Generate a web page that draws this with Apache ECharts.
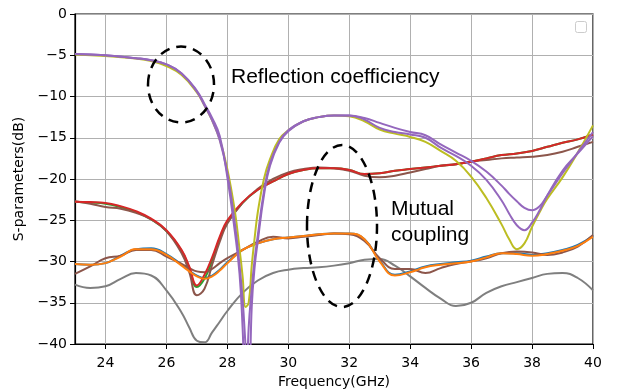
<!DOCTYPE html>
<html>
<head>
<meta charset="utf-8">
<script src="https://cdn.jsdelivr.net/npm/echarts@6/dist/echarts.min.js"></script>
<style>
  html, body { margin: 0; padding: 0; background: #fff; }
  #chart { width: 628px; height: 390px; }
</style>
</head>
<body>
<div id="chart"></div>
<script>
// x tick labels (GHz)
const xTicks = [24, 26, 28, 30, 32, 34, 36, 38, 40];

// frequency grid for the coupling curves
const freqC = [23, 23.5, 24, 24.5, 25, 25.5, 26, 26.5, 26.75, 27, 27.25, 27.5, 27.75, 28, 28.5, 29, 29.5, 30, 30.5, 31, 31.5, 32, 32.5, 33, 33.5, 34, 34.5, 35, 35.5, 36, 36.5, 37, 37.5, 38, 38.5, 39, 39.5, 40];

const red = [-22.75, -22.8, -22.9, -23.3, -23.9, -24.8, -26.2, -28.6, -30.6, -32.9, -31.6, -29.5, -27.0, -25.0, -22.8, -21.3, -20.3, -19.4, -18.9, -18.7, -18.7, -18.9, -19.4, -19.3, -19.0, -18.8, -18.6, -18.4, -18.2, -17.9, -17.5, -17.1, -16.9, -16.6, -16.1, -15.6, -15.2, -14.6];
const green = [-22.75, -22.85, -23.0, -23.4, -24.0, -24.9, -26.3, -28.7, -30.8, -33.1, -32.1, -29.9, -27.3, -25.2, -22.9, -21.3, -20.3, -19.4, -18.9, -18.7, -18.7, -18.9, -19.4, -19.3, -19.0, -18.8, -18.6, -18.4, -18.2, -17.9, -17.5, -17.1, -16.9, -16.6, -16.1, -15.6, -15.2, -14.6];
const brownUp = [-22.7, -23.0, -23.4, -23.6, -24.1, -24.9, -26.3, -29.0, -31.3, -34.1, -33.3, -30.4, -27.6, -25.4, -22.9, -21.2, -20.0, -19.2, -18.8, -18.6, -18.7, -19.0, -19.6, -19.8, -19.6, -19.2, -18.8, -18.4, -18.2, -17.9, -17.7, -17.5, -17.4, -17.3, -17.1, -16.7, -16.1, -15.5];
const orange = [-30.3, -30.4, -30.2, -29.4, -28.5, -28.5, -29.2, -30.5, -31.2, -31.8, -32.1, -31.8, -31.1, -30.2, -28.6, -27.8, -27.3, -27.1, -26.9, -26.7, -26.6, -26.6, -27.3, -30.0, -31.7, -31.3, -30.7, -30.4, -30.2, -30.0, -29.5, -29.0, -29.1, -29.3, -29.1, -28.7, -28.1, -27.0];
const blue = [-30.3, -30.4, -30.2, -29.3, -28.5, -28.4, -29.1, -30.4, -31.1, -31.7, -32.0, -31.7, -31.0, -30.1, -28.6, -27.8, -27.3, -27.1, -26.9, -26.7, -26.6, -26.6, -27.3, -29.9, -31.6, -31.2, -30.6, -30.3, -30.1, -29.9, -29.4, -29.0, -29.0, -29.2, -29.0, -28.6, -28.0, -26.9];
const brownLow = [-31.5, -30.6, -29.6, -29.3, -28.6, -28.6, -29.4, -30.3, -30.8, -31.2, -31.3, -30.9, -30.2, -29.6, -28.6, -27.6, -27.0, -27.2, -27.0, -26.8, -26.6, -26.7, -27.5, -29.6, -30.9, -30.9, -31.4, -30.8, -30.3, -30.0, -29.6, -29.0, -28.8, -28.9, -29.2, -28.9, -28.2, -26.8];
const gray = [-32.8, -33.2, -33.0, -32.1, -31.4, -31.7, -33.5, -36.2, -38.0, -39.6, -39.8, -38.6, -37.3, -36.0, -33.8, -32.3, -31.4, -31.0, -30.8, -30.7, -30.5, -30.2, -29.8, -29.7, -30.5, -31.8, -33.2, -34.5, -35.4, -35.0, -33.8, -33.0, -32.5, -32.0, -31.5, -31.4, -32.0, -33.5];

// frequency grid for the reflection curves
const freqR = [23, 24, 25, 25.5, 26, 26.5, 27, 27.25, 27.5, 27.75, 28, 28.25, 28.4, 28.5, 28.6, 28.7, 28.8, 28.9, 29, 29.2, 29.4, 29.7, 30, 30.5, 31, 31.5, 32, 32.5, 33, 33.5, 34, 34.5, 35, 35.5, 36, 36.5, 37, 37.25, 37.5, 37.75, 38, 38.25, 38.5, 39, 39.5, 40];

const purpleA = [-4.85, -5.0, -5.35, -5.6, -6.1, -7.2, -9.3, -10.9, -12.6, -14.8, -19.8, -26.5, -31.5, -38.0, -47.0, -38.0, -33.3, -29.6, -26.8, -21.5, -18.1, -15.5, -14.1, -13.0, -12.5, -12.3, -12.3, -12.6, -13.2, -13.8, -14.3, -14.7, -15.8, -16.8, -17.8, -19.1, -20.8, -21.8, -22.7, -23.5, -23.8, -23.3, -22.0, -19.3, -16.8, -14.3];
const purpleB = [-4.85, -5.0, -5.35, -5.6, -6.1, -7.2, -9.4, -11.1, -12.9, -15.3, -19.3, -25.5, -30.5, -34.5, -40.5, -47.0, -35.5, -30.5, -27.5, -22.0, -18.4, -15.6, -14.2, -13.0, -12.5, -12.3, -12.3, -12.8, -13.8, -14.3, -14.6, -15.0, -16.2, -17.2, -18.4, -20.1, -22.6, -24.2, -25.6, -26.2, -25.3, -23.8, -22.0, -19.0, -16.9, -14.8];
const olive = [-4.9, -5.1, -5.4, -5.7, -6.3, -7.4, -9.5, -11.1, -12.9, -15.2, -18.8, -24.0, -28.5, -31.8, -35.5, -35.0, -30.5, -27.0, -24.0, -20.0, -17.6, -15.2, -14.1, -13.0, -12.5, -12.3, -12.4, -13.0, -14.0, -14.5, -14.9, -15.5, -16.6, -17.8, -19.7, -22.3, -25.5, -27.3, -28.5, -27.8, -25.8, -24.0, -22.4, -19.8, -16.8, -13.5];

const zip = (xs, ys) => xs.map((x, i) => [x, ys[i]]);

const chart = echarts.init(document.getElementById('chart'), null, { renderer: 'canvas' });

function line(name, color, xs, ys) {
  return {
    name: name,
    type: 'line',
    data: zip(xs, ys),
    smooth: 0.45,
    symbol: 'none',
    clip: true,
    lineStyle: { color: color, width: 2 },
    itemStyle: { color: color },
    emphasis: { disabled: true }
  };
}

const tickFont = { fontFamily: 'DejaVu Sans', fontSize: 14, color: '#000' };

chart.setOption({
  animation: false,
  backgroundColor: '#fff',
  grid: {
    left: 75, right: 35, top: 14, bottom: 46,
    outerBoundsMode: 'none',
    show: true, borderColor: '#000', borderWidth: 1.2
  },
  xAxis: {
    type: 'value',
    min: 23,
    max: 40,
    name: 'Frequency(GHz)',
    nameLocation: 'middle',
    nameGap: 28,
    nameTextStyle: { fontFamily: 'DejaVu Sans', fontSize: 14, color: '#000' },
    axisLine: { show: true, onZero: false, lineStyle: { color: '#000', width: 1.2 } },
    axisTick: { show: true, inside: false, length: 5, customValues: xTicks, lineStyle: { color: '#000', width: 1 } },
    axisLabel: Object.assign({ customValues: xTicks, margin: 12 }, tickFont),
    splitLine: { show: true, lineStyle: { color: '#b0b0b0', width: 1 } }
  },
  yAxis: {
    type: 'value',
    min: -40,
    max: 0,
    interval: 5,
    name: 'S-parameters(dB)',
    nameLocation: 'middle',
    nameGap: 44,
    nameTextStyle: { fontFamily: 'DejaVu Sans', fontSize: 14, color: '#000' },
    axisLine: { show: true, onZero: false, lineStyle: { color: '#000', width: 1.2 } },
    axisTick: { show: true, inside: false, length: 5, lineStyle: { color: '#000', width: 1 } },
    axisLabel: Object.assign({ margin: 8, formatter: v => String(v).replace('-', '\u2212') }, tickFont),
    splitLine: { show: true, lineStyle: { color: '#b0b0b0', width: 1 } }
  },
  series: [
    line('gray', '#7f7f7f', freqC, gray),
    line('blue', '#1f77b4', freqC, blue),
    line('green', '#2ca02c', freqC, green),
    line('brown up', '#8c564b', freqC, brownUp),
    line('brown low', '#8c564b', freqC, brownLow),
    line('red', '#d62728', freqC, red),
    line('orange', '#ff7f0e', freqC, orange),
    line('olive', '#bcbd22', freqR, olive),
    line('purple B', '#9467bd', freqR, purpleB),
    line('purple A', '#9467bd', freqR, purpleA)
  ],
  graphic: [
    { type: 'ellipse', z: 100, shape: { cx: 181, cy: 84.5, rx: 33, ry: 38 },
      style: { fill: 'none', stroke: '#000', lineWidth: 2.5, lineDash: [10, 7] } },
    { type: 'ellipse', z: 100, shape: { cx: 342, cy: 226, rx: 35, ry: 81 },
      style: { fill: 'none', stroke: '#000', lineWidth: 2.5, lineDash: [10, 7] } },
    { type: 'text', z: 100, left: 231, top: 67,
      style: { text: 'Reflection coefficiency', fontFamily: 'Liberation Sans', fontSize: 21, fill: '#000' } },
    { type: 'text', z: 100, left: 391, top: 196,
      style: { text: 'Mutual\ncoupling', fontFamily: 'Liberation Sans', fontSize: 21, lineHeight: 26, fill: '#000' } },
    { type: 'rect', z: 100, shape: { x: 575.5, y: 21.5, width: 11, height: 11, r: 2 },
      style: { fill: '#fff', stroke: '#cccccc', lineWidth: 1 } }
  ]
});
</script>
</body>
</html>
